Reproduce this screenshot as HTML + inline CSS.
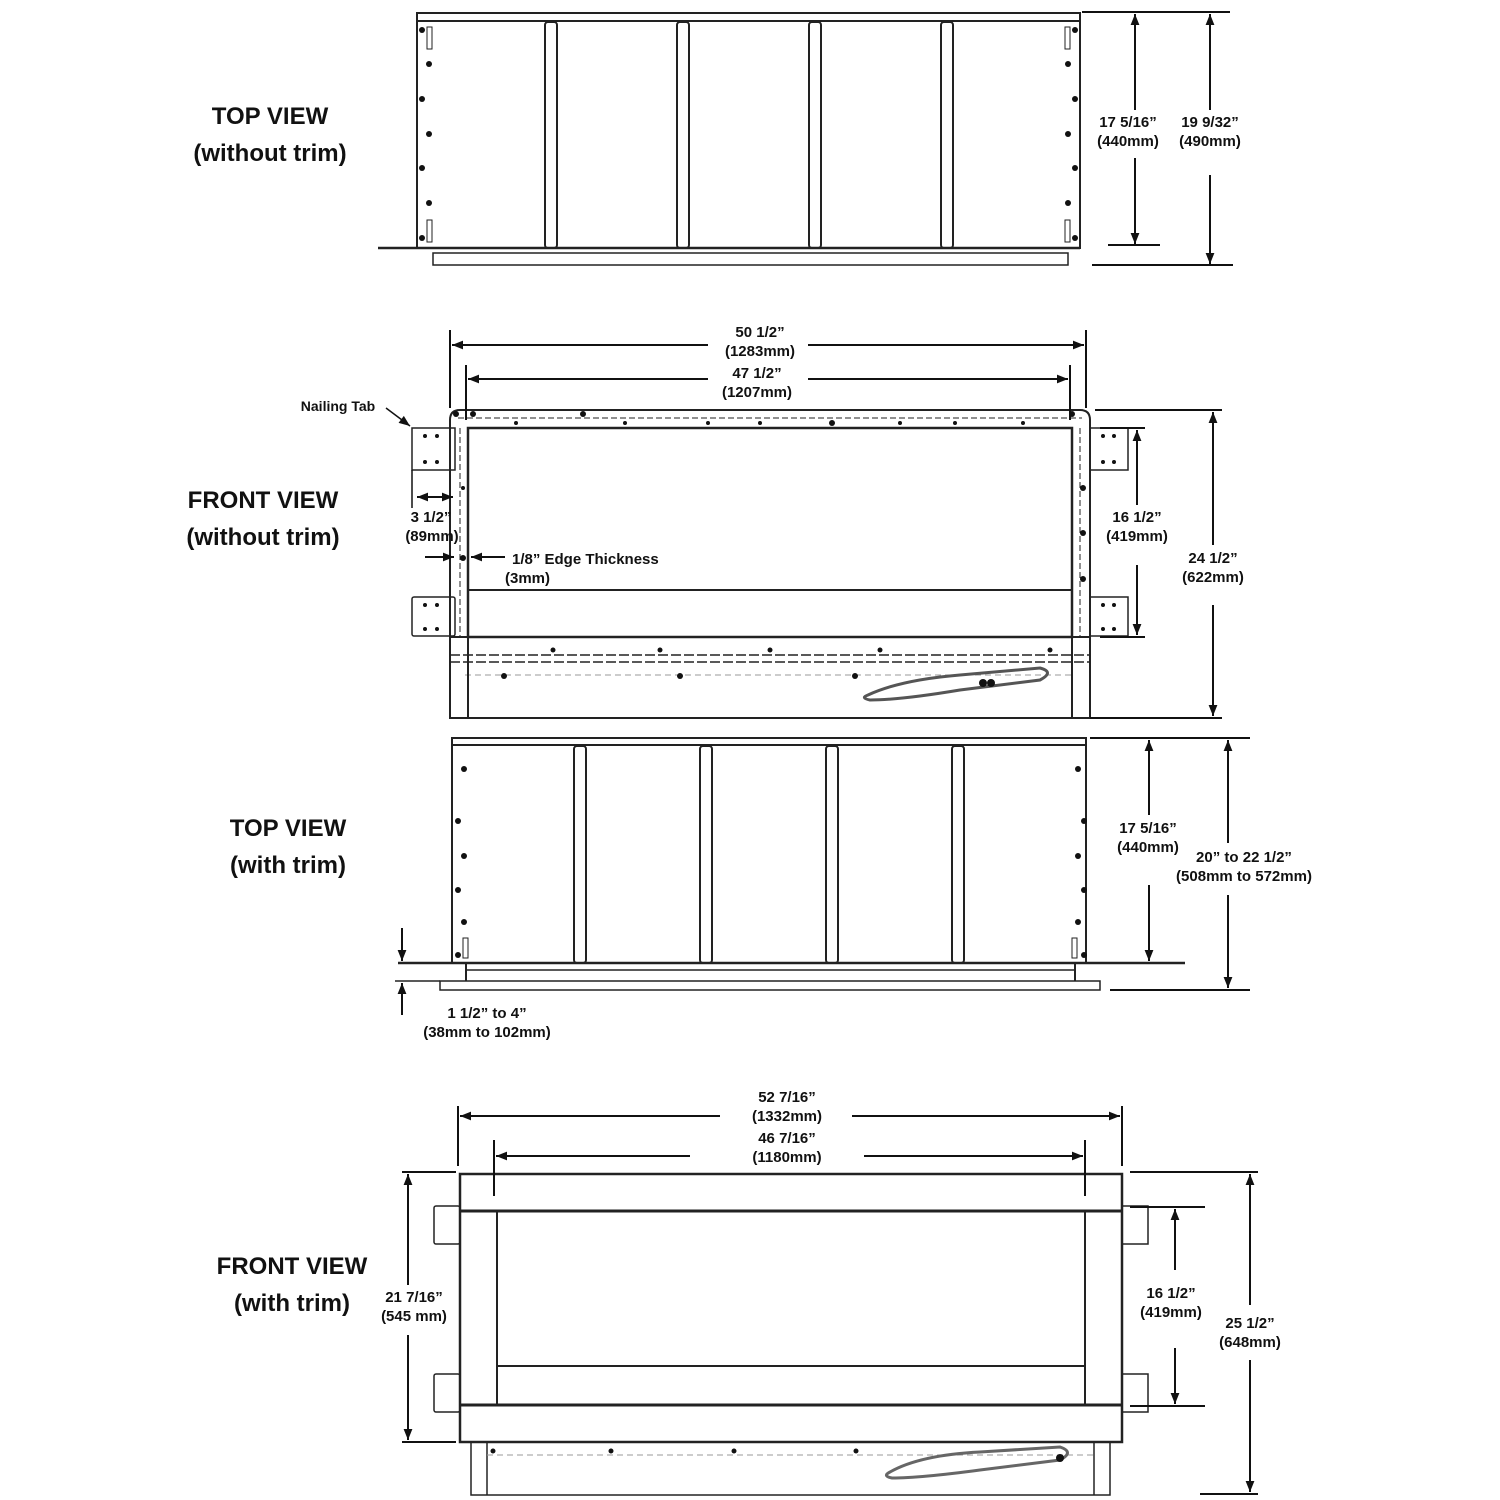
<!DOCTYPE html>
<html><head><meta charset="utf-8"><style>
html,body{margin:0;padding:0;background:#fff}
svg{display:block}
text{font-family:"Liberation Sans",sans-serif;font-weight:bold;fill:#111}
.d{font-size:15px}
.l{font-size:24px}
</style></head><body>
<svg width="1500" height="1500" viewBox="0 0 1500 1500" xmlns="http://www.w3.org/2000/svg">
<defs>
<marker id="a" viewBox="0 0 10 10" refX="10" refY="5" markerWidth="13" markerHeight="11" orient="auto-start-reverse" markerUnits="userSpaceOnUse"><path d="M0,1 L10,5 L0,9 z" fill="#111"/></marker>
</defs>
<g stroke="#222" fill="none" stroke-width="2">
<rect x="417" y="13" width="663" height="8"/>
<rect x="417" y="21" width="663" height="227"/>
<line x1="378" y1="248" x2="1080" y2="248" stroke-width="2.5"/>
<rect x="433" y="253" width="635" height="12" stroke-width="1.5"/>
<rect x="545" y="22" width="12" height="226" rx="3"/>
<rect x="677" y="22" width="12" height="226" rx="3"/>
<rect x="809" y="22" width="12" height="226" rx="3"/>
<rect x="941" y="22" width="12" height="226" rx="3"/>
<rect x="427" y="27" width="5" height="22" stroke-width="1"/>
<rect x="427" y="220" width="5" height="22" stroke-width="1"/>
<rect x="1065" y="27" width="5" height="22" stroke-width="1"/>
<rect x="1065" y="220" width="5" height="22" stroke-width="1"/>
</g>
<g fill="#111">
<circle cx="422" cy="30" r="3"/><circle cx="429" cy="64" r="3"/><circle cx="422" cy="99" r="3"/><circle cx="429" cy="134" r="3"/><circle cx="422" cy="168" r="3"/><circle cx="429" cy="203" r="3"/><circle cx="422" cy="238" r="3"/>
<circle cx="1075" cy="30" r="3"/><circle cx="1068" cy="64" r="3"/><circle cx="1075" cy="99" r="3"/><circle cx="1068" cy="134" r="3"/><circle cx="1075" cy="168" r="3"/><circle cx="1068" cy="203" r="3"/><circle cx="1075" cy="238" r="3"/>
</g>
<g stroke="#111" stroke-width="2" fill="none">
<line x1="1082" y1="12" x2="1230" y2="12"/>
<line x1="1092" y1="265" x2="1233" y2="265"/>
<line x1="1108" y1="245" x2="1160" y2="245"/>
<line x1="1135" y1="14" x2="1135" y2="110" marker-start="url(#a)"/>
<line x1="1135" y1="158" x2="1135" y2="244" marker-end="url(#a)"/>
<line x1="1210" y1="14" x2="1210" y2="110" marker-start="url(#a)"/>
<line x1="1210" y1="175" x2="1210" y2="264" marker-end="url(#a)"/>
</g>
<text class="d" x="1128" y="127" text-anchor="middle">17 5/16”</text>
<text class="d" x="1128" y="146" text-anchor="middle">(440mm)</text>
<text class="d" x="1210" y="127" text-anchor="middle">19 9/32”</text>
<text class="d" x="1210" y="146" text-anchor="middle">(490mm)</text>
<text class="l" x="270" y="124" text-anchor="middle">TOP VIEW</text>
<text class="l" x="270" y="161" text-anchor="middle">(without trim)</text>

<g stroke="#222" fill="none" stroke-width="2">
<path d="M450,718 V420 Q450,410 460,410 H1080 Q1090,410 1090,420 V718 Z"/>
<rect x="468" y="428" width="604" height="209" stroke-width="2.5"/>
<line x1="458" y1="418" x2="1082" y2="418" stroke-dasharray="6 3" stroke-width="1"/>
<line x1="460" y1="428" x2="460" y2="637" stroke-dasharray="6 3" stroke-width="1"/>
<line x1="1080" y1="428" x2="1080" y2="637" stroke-dasharray="6 3" stroke-width="1"/>
<line x1="468" y1="590" x2="1072" y2="590"/>
<line x1="450" y1="637" x2="1090" y2="637"/>
<line x1="450" y1="655" x2="1090" y2="655" stroke-dasharray="10 3" stroke-width="1.5"/>
<line x1="450" y1="662" x2="1090" y2="662" stroke-dasharray="10 3" stroke-width="1.5"/>
<line x1="465" y1="675" x2="1075" y2="675" stroke-dasharray="6 4" stroke-width="1" stroke="#999"/>
<line x1="468" y1="637" x2="468" y2="718"/>
<line x1="1072" y1="637" x2="1072" y2="718"/>
<rect x="412" y="428" width="43" height="42" stroke-width="1.5"/>
<rect x="412" y="597" width="43" height="39" rx="2" stroke-width="1.5"/>
<rect x="1090" y="428" width="38" height="42" stroke-width="1.5"/>
<rect x="1090" y="597" width="38" height="39" stroke-width="1.5"/>
<path d="M868,695 Q900,680 960,675 L1040,668 Q1055,672 1040,680 L960,690 Q900,700 870,700 Q860,698 868,695 Z" stroke-width="3" stroke="#555"/>
</g>
<g fill="#111">
<circle cx="425" cy="436" r="2"/><circle cx="437" cy="436" r="2"/><circle cx="425" cy="462" r="2"/><circle cx="437" cy="462" r="2"/>
<circle cx="425" cy="605" r="2"/><circle cx="437" cy="605" r="2"/><circle cx="425" cy="629" r="2"/><circle cx="437" cy="629" r="2"/>
<circle cx="1103" cy="436" r="2"/><circle cx="1114" cy="436" r="2"/><circle cx="1103" cy="462" r="2"/><circle cx="1114" cy="462" r="2"/>
<circle cx="1103" cy="605" r="2"/><circle cx="1114" cy="605" r="2"/><circle cx="1103" cy="629" r="2"/><circle cx="1114" cy="629" r="2"/>
<circle cx="456" cy="414" r="3"/><circle cx="473" cy="414" r="3"/><circle cx="583" cy="414" r="3"/><circle cx="708" cy="423" r="2"/><circle cx="832" cy="423" r="3"/><circle cx="955" cy="423" r="2"/><circle cx="1072" cy="414" r="3"/>
<circle cx="516" cy="423" r="2"/><circle cx="625" cy="423" r="2"/><circle cx="760" cy="423" r="2"/><circle cx="900" cy="423" r="2"/><circle cx="1023" cy="423" r="2"/>
<circle cx="463" cy="488" r="2"/><circle cx="463" cy="558" r="3"/><circle cx="1083" cy="488" r="3"/><circle cx="1083" cy="533" r="3"/><circle cx="1083" cy="579" r="3"/>
<circle cx="504" cy="676" r="3"/><circle cx="680" cy="676" r="3"/><circle cx="855" cy="676" r="3"/><circle cx="983" cy="683" r="4"/><circle cx="991" cy="683" r="4"/>
<circle cx="553" cy="650" r="2.5"/><circle cx="660" cy="650" r="2.5"/><circle cx="770" cy="650" r="2.5"/><circle cx="880" cy="650" r="2.5"/><circle cx="1050" cy="650" r="2.5"/>
</g>
<g stroke="#111" stroke-width="2" fill="none">
<line x1="450" y1="330" x2="450" y2="408"/>
<line x1="1086" y1="330" x2="1086" y2="408"/>
<line x1="452" y1="345" x2="708" y2="345" marker-start="url(#a)"/>
<line x1="808" y1="345" x2="1084" y2="345" marker-end="url(#a)"/>
<line x1="466" y1="365" x2="466" y2="420"/>
<line x1="1070" y1="365" x2="1070" y2="420"/>
<line x1="468" y1="379" x2="708" y2="379" marker-start="url(#a)"/>
<line x1="808" y1="379" x2="1068" y2="379" marker-end="url(#a)"/>
<line x1="1095" y1="410" x2="1222" y2="410"/>
<line x1="1090" y1="718" x2="1222" y2="718"/>
<line x1="1100" y1="428" x2="1145" y2="428"/>
<line x1="1100" y1="637" x2="1145" y2="637"/>
<line x1="1137" y1="430" x2="1137" y2="505" marker-start="url(#a)"/>
<line x1="1137" y1="565" x2="1137" y2="635" marker-end="url(#a)"/>
<line x1="1213" y1="412" x2="1213" y2="545" marker-start="url(#a)"/>
<line x1="1213" y1="605" x2="1213" y2="716" marker-end="url(#a)"/>
<line x1="386" y1="408" x2="410" y2="426" marker-end="url(#a)" stroke-width="1.5"/>
<line x1="412" y1="470" x2="412" y2="508" stroke-width="1.5"/>
<line x1="417" y1="497" x2="453" y2="497" marker-start="url(#a)" marker-end="url(#a)"/>
<line x1="425" y1="557" x2="454" y2="557" marker-end="url(#a)"/>
<line x1="505" y1="557" x2="471" y2="557" marker-end="url(#a)"/>
</g>
<text class="d" x="760" y="337" text-anchor="middle">50 1/2”</text>
<text class="d" x="760" y="356" text-anchor="middle">(1283mm)</text>
<text class="d" x="757" y="378" text-anchor="middle">47 1/2”</text>
<text class="d" x="757" y="397" text-anchor="middle">(1207mm)</text>
<text class="d" x="1137" y="522" text-anchor="middle">16 1/2”</text>
<text class="d" x="1137" y="541" text-anchor="middle">(419mm)</text>
<text class="d" x="1213" y="563" text-anchor="middle">24 1/2”</text>
<text class="d" x="1213" y="582" text-anchor="middle">(622mm)</text>
<text class="d" x="338" y="411" text-anchor="middle" style="font-size:14px">Nailing Tab</text>
<text class="d" x="431" y="522" text-anchor="middle">3 1/2”</text>
<text class="d" x="432" y="541" text-anchor="middle">(89mm)</text>
<text class="d" x="512" y="564">1/8” Edge Thickness</text>
<text class="d" x="505" y="583">(3mm)</text>
<text class="l" x="263" y="508" text-anchor="middle">FRONT VIEW</text>
<text class="l" x="263" y="545" text-anchor="middle">(without trim)</text>

<g stroke="#222" fill="none" stroke-width="2">
<rect x="452" y="738" width="634" height="7"/>
<rect x="452" y="745" width="634" height="218"/>
<line x1="398" y1="963" x2="1185" y2="963" stroke-width="2.5"/>
<line x1="395" y1="981" x2="440" y2="981" stroke-width="1.5"/>
<line x1="466" y1="970" x2="1075" y2="970" stroke-width="1.5"/>
<path d="M440,981 H1100 V990 H440 Z" stroke-width="1.5"/>
<line x1="466" y1="963" x2="466" y2="981"/>
<line x1="1075" y1="963" x2="1075" y2="981"/>
<rect x="574" y="746" width="12" height="217" rx="3"/>
<rect x="700" y="746" width="12" height="217" rx="3"/>
<rect x="826" y="746" width="12" height="217" rx="3"/>
<rect x="952" y="746" width="12" height="217" rx="3"/>
<rect x="463" y="938" width="5" height="20" stroke-width="1"/>
<rect x="1072" y="938" width="5" height="20" stroke-width="1"/>
</g>
<g fill="#111">
<circle cx="464" cy="769" r="3"/><circle cx="458" cy="821" r="3"/><circle cx="464" cy="856" r="3"/><circle cx="458" cy="890" r="3"/><circle cx="464" cy="922" r="3"/><circle cx="458" cy="955" r="3"/>
<circle cx="1078" cy="769" r="3"/><circle cx="1084" cy="821" r="3"/><circle cx="1078" cy="856" r="3"/><circle cx="1084" cy="890" r="3"/><circle cx="1078" cy="922" r="3"/><circle cx="1084" cy="955" r="3"/>
</g>
<g stroke="#111" stroke-width="2" fill="none">
<line x1="1090" y1="738" x2="1250" y2="738"/>
<line x1="1110" y1="990" x2="1250" y2="990"/>
<line x1="1149" y1="740" x2="1149" y2="815" marker-start="url(#a)"/>
<line x1="1149" y1="885" x2="1149" y2="961" marker-end="url(#a)"/>
<line x1="1228" y1="740" x2="1228" y2="843" marker-start="url(#a)"/>
<line x1="1228" y1="895" x2="1228" y2="988" marker-end="url(#a)"/>
<line x1="402" y1="928" x2="402" y2="961" marker-end="url(#a)"/>
<line x1="402" y1="1015" x2="402" y2="983" marker-end="url(#a)"/>
</g>
<text class="d" x="1148" y="833" text-anchor="middle">17 5/16”</text>
<text class="d" x="1148" y="852" text-anchor="middle">(440mm)</text>
<text class="d" x="1244" y="862" text-anchor="middle">20” to 22 1/2”</text>
<text class="d" x="1244" y="881" text-anchor="middle">(508mm to 572mm)</text>
<text class="d" x="487" y="1018" text-anchor="middle">1 1/2” to 4”</text>
<text class="d" x="487" y="1037" text-anchor="middle">(38mm to 102mm)</text>
<text class="l" x="288" y="836" text-anchor="middle">TOP VIEW</text>
<text class="l" x="288" y="873" text-anchor="middle">(with trim)</text>

<g stroke="#222" fill="none" stroke-width="2">
<rect x="471" y="1442" width="639" height="53" stroke-width="1.5"/>
<line x1="487" y1="1442" x2="487" y2="1495" stroke-width="1.5"/>
<line x1="1094" y1="1442" x2="1094" y2="1495" stroke-width="1.5"/>
<line x1="487" y1="1455" x2="1094" y2="1455" stroke-dasharray="6 4" stroke-width="1" stroke="#999"/>
<path d="M890,1472 Q920,1455 980,1452 L1060,1447 Q1075,1452 1060,1460 L980,1470 Q920,1478 892,1478 Q882,1476 890,1472 Z" stroke-width="3" stroke="#666"/>
<rect x="434" y="1206" width="26" height="38" rx="2" stroke-width="1.5"/>
<rect x="434" y="1374" width="26" height="38" rx="2" stroke-width="1.5"/>
<rect x="1122" y="1206" width="26" height="38" stroke-width="1.5"/>
<rect x="1122" y="1374" width="26" height="38" stroke-width="1.5"/>
<rect x="460" y="1174" width="662" height="268" fill="#fff" stroke-width="2.5"/>
<line x1="460" y1="1211" x2="1122" y2="1211" stroke-width="3"/>
<line x1="460" y1="1405" x2="1122" y2="1405" stroke-width="3"/>
<line x1="497" y1="1211" x2="497" y2="1405"/>
<line x1="1085" y1="1211" x2="1085" y2="1405"/>
<line x1="497" y1="1366" x2="1085" y2="1366"/>
</g>
<g fill="#111">
<circle cx="493" cy="1451" r="2.5"/><circle cx="611" cy="1451" r="2.5"/><circle cx="734" cy="1451" r="2.5"/><circle cx="856" cy="1451" r="2.5"/><circle cx="1060" cy="1458" r="4"/>
</g>
<g stroke="#111" stroke-width="2" fill="none">
<line x1="458" y1="1106" x2="458" y2="1166"/>
<line x1="1122" y1="1106" x2="1122" y2="1166"/>
<line x1="460" y1="1116" x2="720" y2="1116" marker-start="url(#a)"/>
<line x1="852" y1="1116" x2="1120" y2="1116" marker-end="url(#a)"/>
<line x1="494" y1="1140" x2="494" y2="1196"/>
<line x1="1085" y1="1140" x2="1085" y2="1196"/>
<line x1="496" y1="1156" x2="690" y2="1156" marker-start="url(#a)"/>
<line x1="864" y1="1156" x2="1083" y2="1156" marker-end="url(#a)"/>
<line x1="402" y1="1172" x2="456" y2="1172"/>
<line x1="402" y1="1442" x2="456" y2="1442"/>
<line x1="408" y1="1174" x2="408" y2="1285" marker-start="url(#a)"/>
<line x1="408" y1="1335" x2="408" y2="1440" marker-end="url(#a)"/>
<line x1="1130" y1="1207" x2="1205" y2="1207"/>
<line x1="1130" y1="1406" x2="1205" y2="1406"/>
<line x1="1175" y1="1209" x2="1175" y2="1270" marker-start="url(#a)"/>
<line x1="1175" y1="1348" x2="1175" y2="1404" marker-end="url(#a)"/>
<line x1="1130" y1="1172" x2="1258" y2="1172"/>
<line x1="1200" y1="1494" x2="1258" y2="1494"/>
<line x1="1250" y1="1174" x2="1250" y2="1305" marker-start="url(#a)"/>
<line x1="1250" y1="1360" x2="1250" y2="1492" marker-end="url(#a)"/>
</g>
<text class="d" x="787" y="1102" text-anchor="middle">52 7/16”</text>
<text class="d" x="787" y="1121" text-anchor="middle">(1332mm)</text>
<text class="d" x="787" y="1143" text-anchor="middle">46 7/16”</text>
<text class="d" x="787" y="1162" text-anchor="middle">(1180mm)</text>
<text class="d" x="414" y="1302" text-anchor="middle">21 7/16”</text>
<text class="d" x="414" y="1321" text-anchor="middle">(545 mm)</text>
<text class="d" x="1171" y="1298" text-anchor="middle">16 1/2”</text>
<text class="d" x="1171" y="1317" text-anchor="middle">(419mm)</text>
<text class="d" x="1250" y="1328" text-anchor="middle">25 1/2”</text>
<text class="d" x="1250" y="1347" text-anchor="middle">(648mm)</text>
<text class="l" x="292" y="1274" text-anchor="middle">FRONT VIEW</text>
<text class="l" x="292" y="1311" text-anchor="middle">(with trim)</text>
</svg>
</body></html>
